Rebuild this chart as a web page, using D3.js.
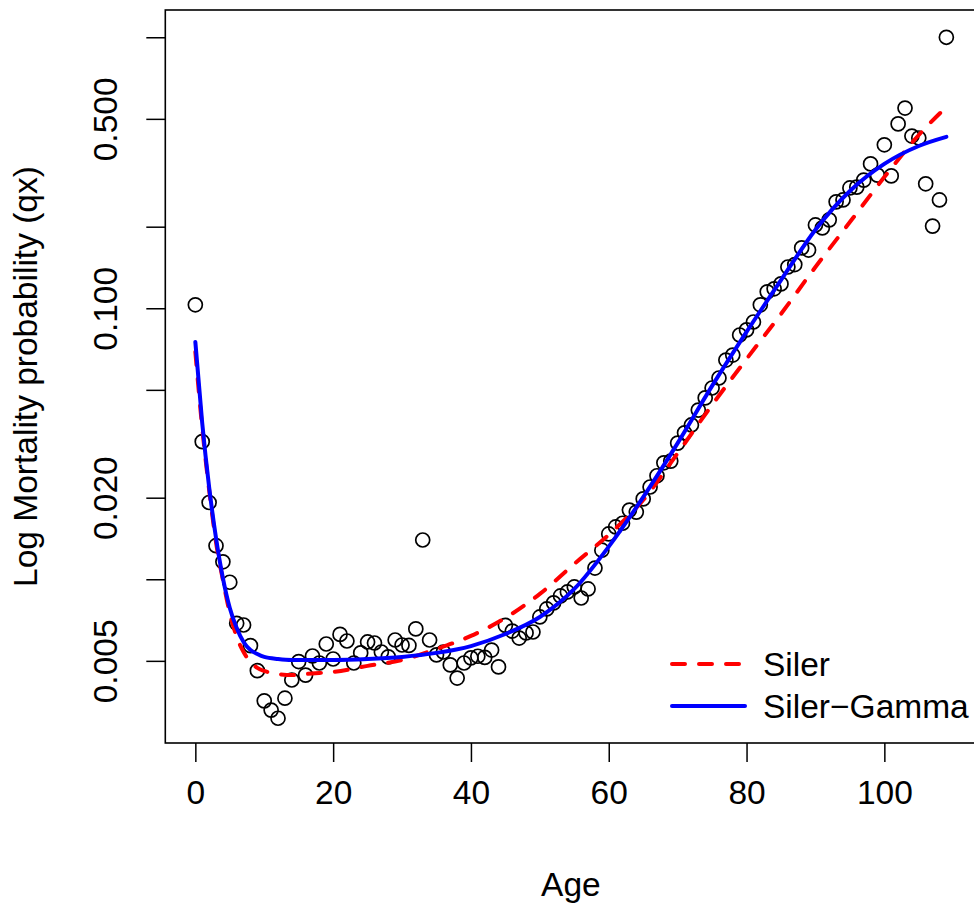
<!DOCTYPE html>
<html lang="en">
<head>
<meta charset="utf-8">
<title>Log Mortality probability</title>
<script src="https://d3js.org/d3.v7.min.js"></script>
<style>
  body { margin: 0; background: #fff; }
  svg text { font-family: "Liberation Sans", Arial, Helvetica, sans-serif; font-size: 33.5px; fill: #000; }
</style>
</head>
<body>
<div id="main"></div>
<script>
// observed qx by single year of age
var ages = [0,1,2,3,4,5,6,7,8,9,
            10,11,12,13,14,15,16,17,18,19,
            20,21,22,23,24,25,26,27,28,29,
            30,31,32,33,34,35,36,37,38,39,
            40,41,42,43,44,45,46,47,48,49,
            50,51,52,53,54,55,56,57,58,59,
            60,61,62,63,64,65,66,67,68,69,
            70,71,72,73,74,75,76,77,78,79,
            80,81,82,83,84,85,86,87,88,89,
            90,91,92,93,94,95,96,97,98,99,
            100,101,102,103,104,105,106,107,108,109];
var qx = [0.103,0.0322,0.0192,0.0133,0.0116,0.00975,0.00688,0.00678,0.00569,0.00460,
          0.00356,0.00329,0.00307,0.00364,0.00425,0.00497,0.00443,0.00521,0.00491,0.00577,
          0.00508,0.00626,0.00592,0.00491,0.00535,0.00587,0.00582,0.00539,0.00517,0.00597,
          0.00572,0.00570,0.00656,0.01396,0.00597,0.00526,0.00539,0.00483,0.00432,0.00491,
          0.00513,0.00520,0.00515,0.00548,0.00475,0.00676,0.00644,0.00607,0.00634,0.00639,
          0.00726,0.00777,0.00818,0.00868,0.00898,0.00937,0.00853,0.00921,0.0110,0.0128,
          0.0147,0.0156,0.0161,0.0180,0.0177,0.0198,0.0219,0.0241,0.0269,0.0273,
          0.0318,0.0347,0.0371,0.0421,0.0467,0.0508,0.0553,0.0644,0.0672,0.0797,
          0.0832,0.0890,0.103,0.115,0.118,0.123,0.142,0.145,0.167,0.164,
          0.203,0.198,0.212,0.247,0.251,0.278,0.280,0.297,0.341,0.310,
          0.401,0.308,0.479,0.548,0.432,0.425,0.288,0.201,0.251,1.00];

// fitted curves
var fitAges = [0,1,2,3,4,5,6,7,8,9,10,12,14,16,18,20,25,30,35,40,45,50,55,60,65,70,75,80,85,90,95,100,105,109];
var siler = [0.0690,0.0362,0.0214,0.0137,0.00994,0.00751,0.00613,0.00539,0.00495,0.00471,0.00459,0.00447,0.00443,0.00447,0.00451,0.00455,
             0.00479,0.00504,0.00553,0.00618,0.00720,0.00883,0.0114,0.0146,0.0196,0.0292,0.0440,0.0650,0.0953,0.142,0.208,0.305,0.436,0.553];
var silerGamma = [0.0751,0.0377,0.0219,0.0142,0.0101,0.00784,0.00661,0.00587,0.00548,0.00530,0.00517,0.00508,0.00504,0.00504,0.00504,0.00504,
                  0.00508,0.00517,0.00535,0.00567,0.00628,0.00726,0.00921,0.0132,0.0201,0.0318,0.0517,0.0818,0.127,0.195,0.271,0.341,0.397,0.429];

var xTicks = [0,20,40,60,80,100];
var yTicks = [1,0.5,0.2,0.1,0.05,0.02,0.01,0.005];
var yLabelTicks = [0.5,0.1,0.02,0.005];
var yLabels = ["0.500","0.100","0.020","0.005"];
var legendLabels = ["Siler","Siler\u2212Gamma"];
var legendColors = ["#ff0000","#0000ff"];

var width = 974, height = 906;
var plotL = 165.3, plotR = 976.4, plotT = 10, plotB = 743;
var dash = "13,14";

var svg = d3.select("#main").append("svg")
    .attr("width", width)
    .attr("height", height);

var x = d3.scaleLinear().domain([-4.36, 113.36]).range([plotL, plotR]);
var y = d3.scaleLog().domain([0.002488, 1.2608]).range([plotB, plotT]);

// x axis
svg.append("g")
    .attr("transform", "translate(0," + plotB + ")")
    .call(d3.axisBottom(x).tickValues(xTicks).tickSize(19).tickPadding(18))
    .call(function(g){ g.select(".domain").remove(); })
    .call(function(g){ g.selectAll("line").attr("stroke", "#000").attr("stroke-width", 1.5); });

// y axis, labels drawn parallel to the axis like R does
svg.append("g")
    .attr("transform", "translate(" + plotL + ",0)")
    .call(d3.axisLeft(y).tickValues(yTicks).tickSize(19)
        .tickFormat(function(d){ var i = yLabelTicks.indexOf(d); return i < 0 ? "" : yLabels[i]; }))
    .call(function(g){ g.select(".domain").remove(); })
    .call(function(g){ g.selectAll("line").attr("stroke", "#000").attr("stroke-width", 1.5); })
    .call(function(g){
        g.selectAll(".tick text")
            .attr("transform", "rotate(-90)")
            .attr("x", 0)
            .attr("y", -48)
            .attr("dy", null)
            .attr("text-anchor", "middle");
    });

// frame
svg.append("rect")
    .attr("x", plotL).attr("y", plotT)
    .attr("width", plotR - plotL).attr("height", plotB - plotT)
    .attr("fill", "none").attr("stroke", "#000").attr("stroke-width", 1.6);

// points
svg.append("g").selectAll("circle")
    .data(ages)
    .enter()
    .append("circle")
    .attr("cx", function(d){ return x(d); })
    .attr("cy", function(d, i){ return y(qx[i]); })
    .attr("r", 7)
    .attr("fill", "none")
    .attr("stroke", "#000")
    .attr("stroke-width", 1.7);

var line = d3.line()
    .x(function(d){ return x(d[0]); })
    .y(function(d){ return y(d[1]); })
    .curve(d3.curveMonotoneX);

svg.append("path")
    .datum(fitAges.map(function(a, i){ return [a, siler[i]]; }))
    .attr("d", line)
    .attr("fill", "none")
    .attr("stroke", legendColors[0])
    .attr("stroke-width", 4)
    .attr("stroke-linecap", "round")
    .attr("stroke-dasharray", dash);

svg.append("path")
    .datum(fitAges.map(function(a, i){ return [a, silerGamma[i]]; }))
    .attr("d", line)
    .attr("fill", "none")
    .attr("stroke", legendColors[1])
    .attr("stroke-width", 4)
    .attr("stroke-linecap", "round");

// legend
var legend = svg.append("g").selectAll("g")
    .data(legendLabels)
    .enter()
    .append("g")
    .attr("transform", function(d, i){ return "translate(0," + (664 + i * 42) + ")"; });

legend.append("line")
    .attr("x1", 672).attr("x2", 745)
    .attr("stroke", function(d, i){ return legendColors[i]; })
    .attr("stroke-width", 4)
    .attr("stroke-linecap", "round")
    .attr("stroke-dasharray", function(d, i){ return i == 0 ? dash : null; });

legend.append("text")
    .attr("x", 763)
    .attr("y", 12)
    .text(function(d){ return d; });

// axis titles
svg.append("text")
    .attr("x", (plotL + plotR) / 2)
    .attr("y", 896)
    .attr("text-anchor", "middle")
    .text("Age");

svg.append("text")
    .attr("transform", "translate(37," + ((plotT + plotB) / 2) + ") rotate(-90)")
    .attr("text-anchor", "middle")
    .text("Log Mortality probability (qx)");
</script>
</body>
</html>
